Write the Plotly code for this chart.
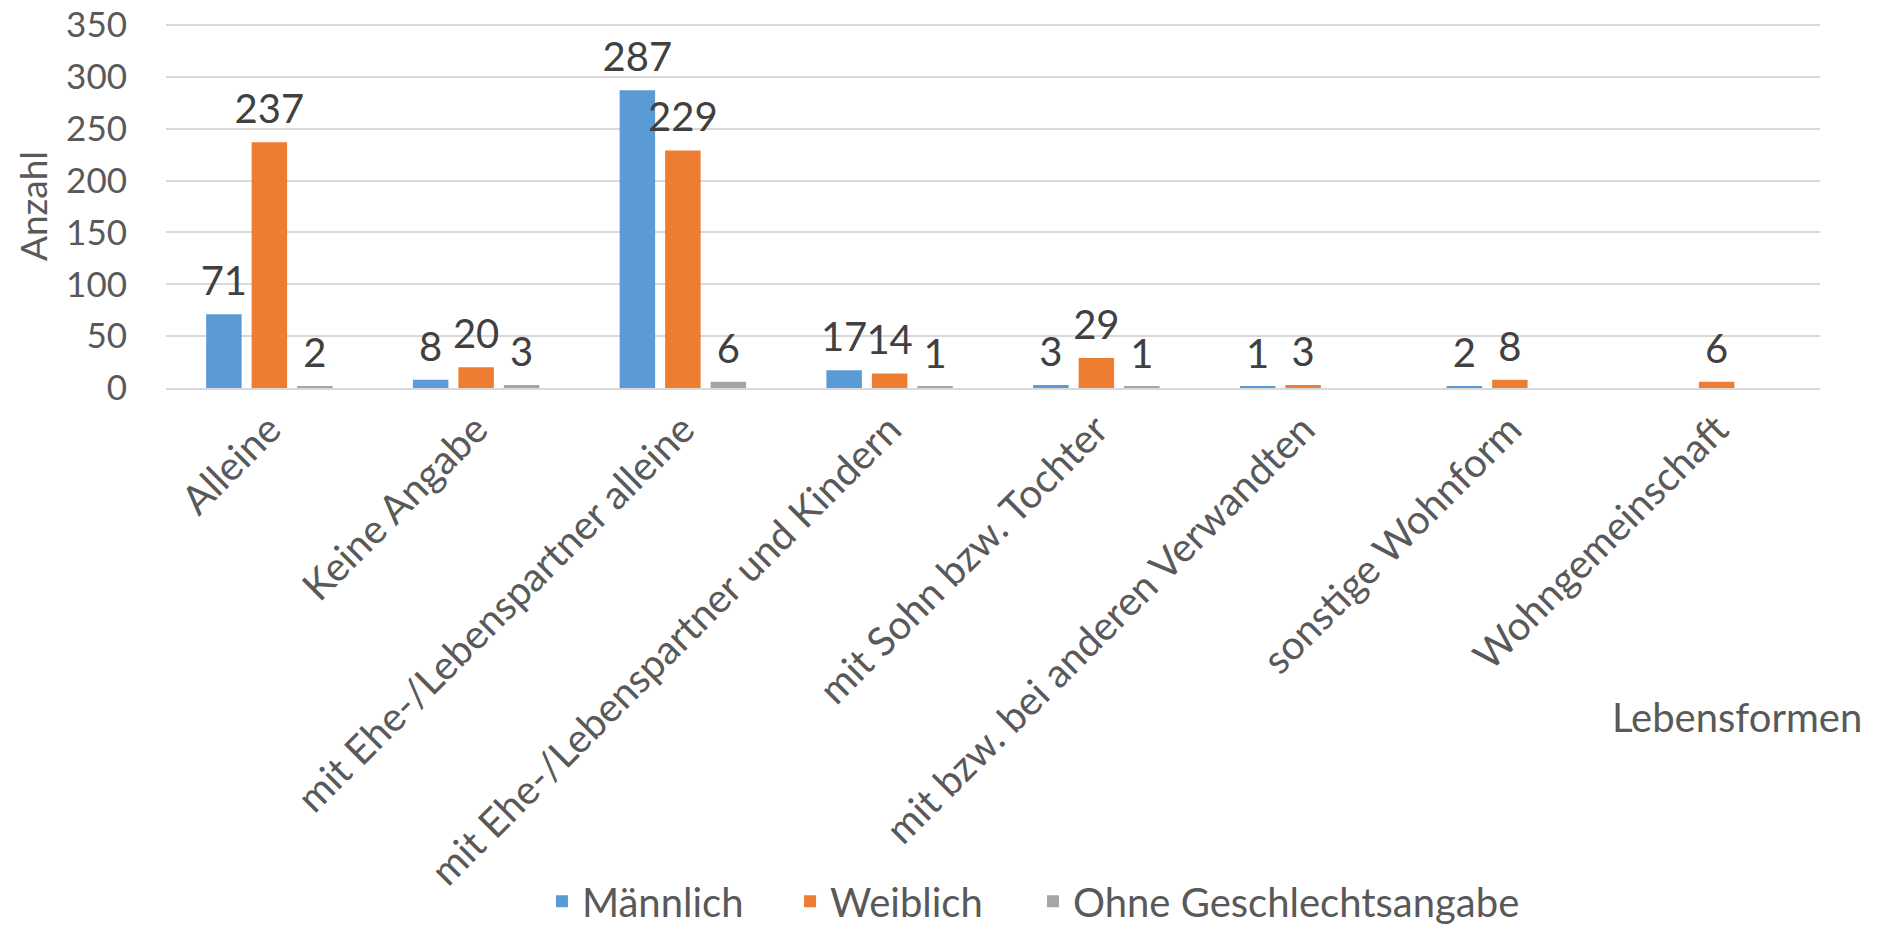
import plotly.graph_objects as go

categories = ["Alleine",
              "Keine Angabe",
              "mit Ehe-/Lebenspartner alleine",
              "mit Ehe-/Lebenspartner und Kindern",
              "mit Sohn bzw. Tochter",
              "mit bzw. bei anderen Verwandten",
              "sonstige Wohnform",
              "Wohngemeinschaft"]

maennlich = [71, 8, 287, 17, 3, 1, 2, None]
weiblich = [237, 20, 229, 14, 29, 3, 8, 6]
ohne_angabe = [2, 3, 6, 1, 1, None, None, None]

y_ticks = [0, 50, 100, 150, 200, 250, 300, 350]

FONT = "Lato, Open Sans, sans-serif"
GREY_TEXT = "#595959"
LABEL_TEXT = "#404040"

series = [
    {"name": "Männlich", "values": maennlich, "color": "#5B9BD5", "legend": "legend", "lx": 0.2273},
    {"name": "Weiblich", "values": weiblich, "color": "#ED7D31", "legend": "legend2", "lx": 0.3773},
    {"name": "Ohne Geschlechtsangabe", "values": ohne_angabe, "color": "#A5A5A5", "legend": "legend3", "lx": 0.5242},
]

fig = go.Figure()

for i, s in enumerate(series):
    fig.add_trace(go.Bar(x=categories,
                         y=s["values"],
                         name=s["name"],
                         marker_color=s["color"],
                         marker_line_width=0,
                         offsetgroup=str(i),
                         legend=s["legend"]))

# data labels: invisible markers lift the text a bit above the bars, like Excel
for i, s in enumerate(series):
    fig.add_trace(go.Scatter(x=categories,
                             y=s["values"],
                             mode="markers+text",
                             marker=dict(size=13, opacity=0),
                             text=[str(v) if v is not None else "" for v in s["values"]],
                             textposition="top center",
                             textfont=dict(size=40, color=LABEL_TEXT, family=FONT),
                             offsetgroup=str(i),
                             showlegend=False,
                             hoverinfo="skip",
                             cliponaxis=False))

legend_style = dict(orientation="h",
                    xanchor="left",
                    y=-1.41,
                    yanchor="middle",
                    font=dict(size=40, color=GREY_TEXT),
                    bgcolor="rgba(0,0,0,0)")

# the page body adds an 8px offset, so margins are shifted by that amount
fig.update_layout(
    width=1888,
    height=928,
    margin=dict(l=158, r=76, t=16, b=548, autoexpand=False),
    paper_bgcolor="white",
    plot_bgcolor="white",
    barmode="group",
    scattermode="group",
    bargap=0.34,
    bargroupgap=0.22,
    font=dict(family=FONT, color=GREY_TEXT, size=34),
    showlegend=True,
    legend=dict(x=series[0]["lx"], **legend_style),
    legend2=dict(x=series[1]["lx"], **legend_style),
    legend3=dict(x=series[2]["lx"], **legend_style),
)

# a hair above 350 so the top gridline is not dropped at the plot edge
fig.update_yaxes(range=[0, 351],
                 tickvals=y_ticks,
                 showgrid=True,
                 gridcolor="#D9D9D9",
                 gridwidth=2,
                 zeroline=False,
                 showline=False,
                 ticks="",
                 ticklabelstandoff=38,
                 ticklabeloverflow="allow",
                 tickfont=dict(size=35, color=GREY_TEXT),
                 automargin=False)

fig.update_xaxes(showline=True,
                 linecolor="#D9D9D9",
                 linewidth=2,
                 ticks="",
                 tickangle=-45,
                 tickfont=dict(size=40, color=GREY_TEXT),
                 ticklabeloverflow="allow",
                 automargin=False)

fig.add_annotation(text="Anzahl",
                   xref="paper", yref="paper",
                   x=-0.081, y=0.5,
                   xanchor="center", yanchor="middle",
                   textangle=-90,
                   showarrow=False,
                   font=dict(size=37, color=GREY_TEXT))

fig.add_annotation(text="Lebensformen",
                   xref="paper", yref="paper",
                   x=1.0266, xanchor="right",
                   y=-0.905, yanchor="middle",
                   showarrow=False,
                   font=dict(size=40, color=GREY_TEXT))

fig.write_html("out.html")
